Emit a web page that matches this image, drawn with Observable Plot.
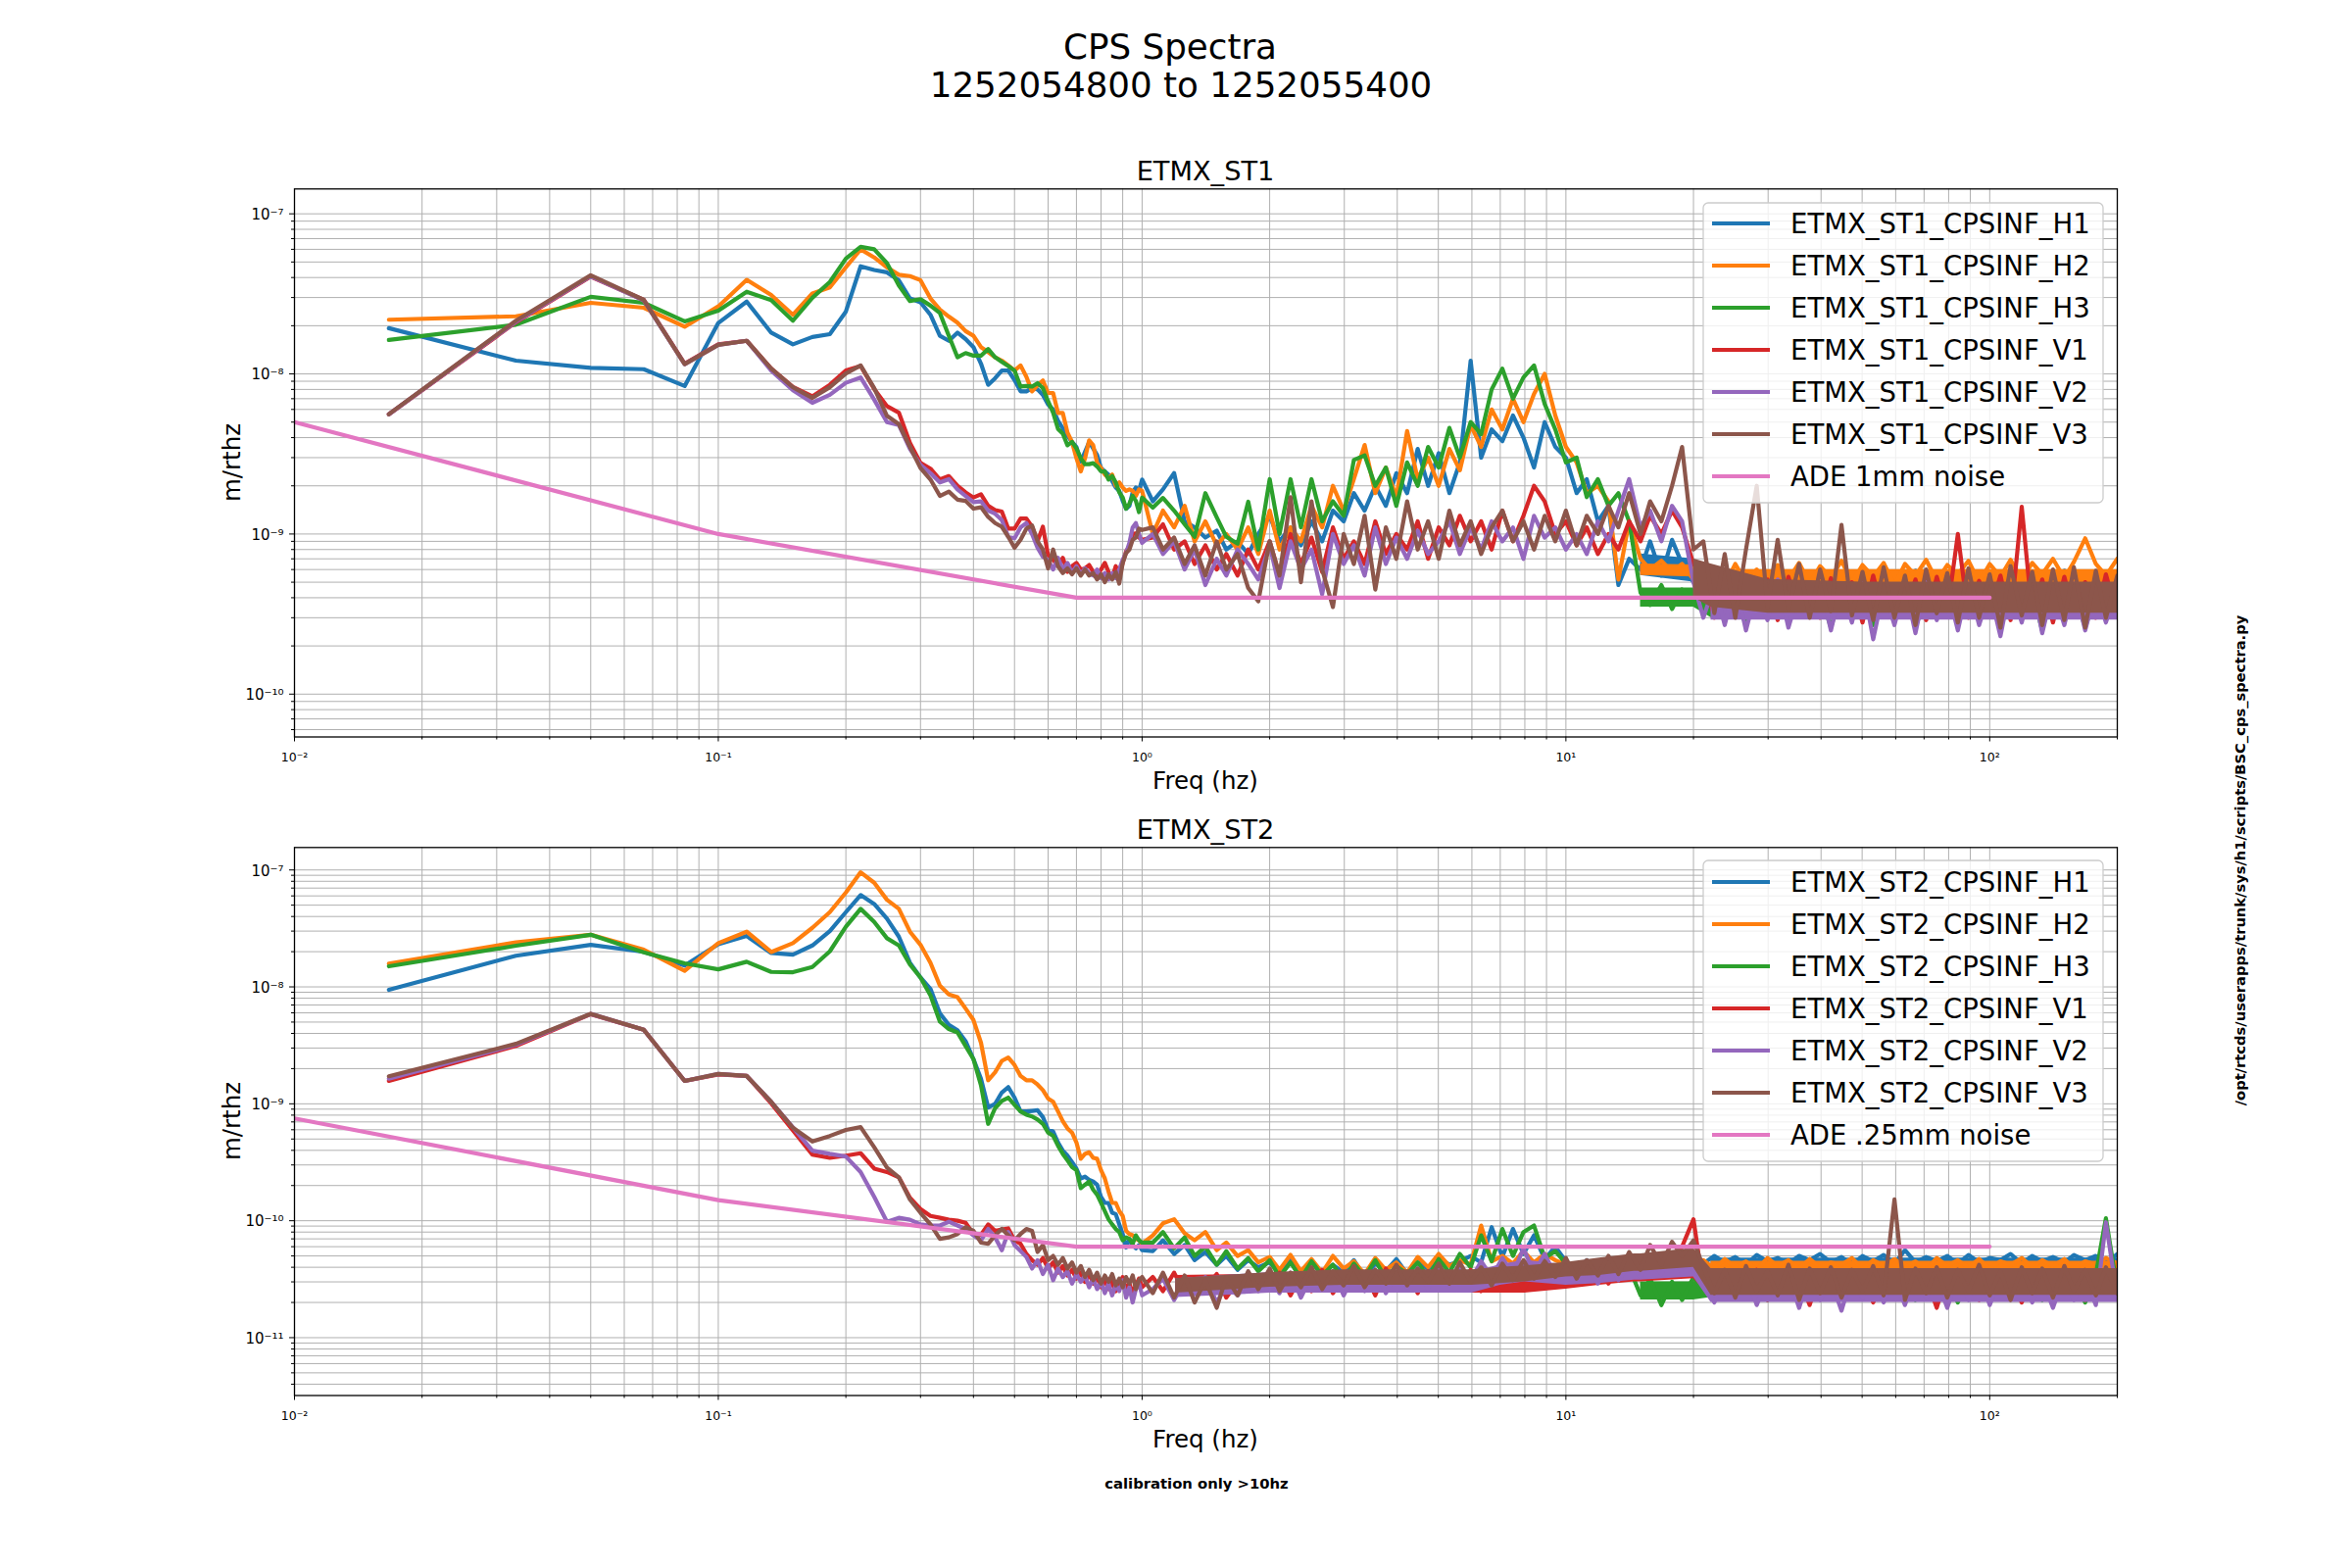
<!DOCTYPE html>
<html><head><meta charset="utf-8">
<script src="https://cdn.jsdelivr.net/npm/d3@7"></script>
<script src="https://cdn.jsdelivr.net/npm/@observablehq/plot@0.6"></script>
<style>
html,body{margin:0;padding:0;background:#fff;}
#wrap{position:relative;width:2400px;height:1600px;background:#fff;font-family:"DejaVu Sans";overflow:hidden;}
#wrap svg{position:absolute;left:0;}
</style></head><body><div id="wrap"></div>
<script>
// ---------- frequency grid (Hz) ----------
const freqLow = [0.0167,0.0333,0.05,0.0667,0.0833,0.1,0.1167,0.1333,0.15,0.1667,
0.1833,0.2,0.2167,0.2333,0.25,0.2667,0.2833,0.3,0.3167,0.3333,
0.35,0.3667,0.3833,0.4,0.4167,0.4333,0.45,0.4667,0.4833,0.5,
0.5167,0.5333,0.55,0.5667,0.5833,0.6,0.6167,0.6333,0.65,0.6667,
0.6833,0.7,0.7167,0.7333,0.75,0.7667,0.7833,0.8,0.8167,0.8333,
0.85,0.8667,0.8833,0.9,0.9167,0.9333,0.95,0.9667,0.9833,1.0];
const freqHigh = [1.06,1.12,1.19,1.26,1.33,1.41,1.5,1.58,1.68,1.78,1.88,2.0,
2.11,2.24,2.37,2.51,2.66,2.82,2.99,3.16,3.35,3.55,3.76,3.98,
4.22,4.47,4.73,5.01,5.31,5.62,5.96,6.31,6.68,7.08,7.5,7.94,
8.41,8.91,9.44,10,10.6,11.2,11.9,12.6,13.3,14.1,
15,15.8,16.8,17.8,18.8,20,
21.1,22.4,23.7,25.1,26.6,28.2,29.9,31.6,33.5,35.5,
37.6,39.8,42.2,44.7,47.3,50.1,53.1,56.2,59.6,63.1,
66.8,70.8,75,79.4,84.1,89.1,94.4,100,106,112,
119,126,133,141,150,158,168,178,188,200];
const freq = freqLow.concat(freqHigh);
// frequencies where a trace's dense noise floor is given as a lo/hi envelope (NaN = no envelope there)
const bandFreq = [1.2,2,3,4,5,6,7,8,10,12,14.5,15,20,22,30,50,100,200];

// ---------- ETMX_ST1 spectra, units of 1e-10 m/rthz ----------
const unitST1 = 1e-10;
const st1_H1 = [
193,121,109,107,84,208,283,181,153,170,
177,245,470,446,431,384,296,280,234,173,
161,181,165,147,116,85.5,94,105,105,91.6,
77.8,77.8,81.5,80,74,64.4,60,51,45.7,41.2,
37.6,35,28.3,32.6,37.6,34.2,31.1,25.8,24.6,23.5,
21.4,19.5,18.6,16.1,14.4,15,18.2,19.5,18.6,21.9,
16,19,24,12,11,9.5,10.5,8,9,7.5,10,13,
9,11,8.5,12,9,14,12,18,14,20,15,24,
18,34,20,32,18,28,121,30,45,38,55,40,
26,50,35,30,18,22,12,15,4.8,7,
6,9,5.5,9.2,6.5,5,
6.5,3.6,5.5,3.2,5.2,3.5,5.6,3.4,5.3,3.6,
5.7,3.3,5.4,3.7,5.8,3.4,5.5,3.2,5.6,3.5,
5.9,3.6,5.4,3.3,5.7,3.5,5.5,3.4,5.8,3.6,
5.3,3.2,5.6,3.5,5.9,3.4,5.5,3.6,5.7,3.3];
const st1_H2 = [
218,229,278,259,197,264,387,311,234,318,
347,463,600,534,463,416,408,385,296,252,
228,209,185,173,147,137,127,121,113,105,
113,96,77.7,85,91,76,76,57,57,43,
37.6,29.7,24.6,29.7,38.5,35.8,27.7,25.8,23.5,22.4,
23.5,20,21,19.5,18.6,19,18.6,17.3,19,18.6,
10,14,11,15,9,12,8.5,10,8,11,7.5,14,
8,11,9,15,11,20,14,22,36,18,26,17,
44,22,30,20,34,25,48,35,60,45,70,50,
75,100,55,35,28,18,20,16,5.2,12,
7,6,6.8,5.8,6.5,5.2,
4.5,6.2,4.8,6.5,5.0,6.0,4.6,6.4,5.2,6.6,
4.9,6.3,5.3,6.8,5.0,6.4,5.4,6.6,4.8,6.5,
5.5,6.9,5.1,6.4,5.6,6.8,5.0,6.5,5.4,6.9,
5.2,6.6,5.6,7.0,5.3,6.7,9.4,6.5,5.5,7.0];
const st1_H3 = [
163,203,303,278,213,248,326,289,215,299,
375,525,622,600,492,357,285,293,267,240,
173,127,135,130,130,143,127,119,112,105,
83.4,84,83.4,87.5,81.5,67.5,57.3,45.3,42.3,35.8,
37.6,34.2,29.7,27.3,27.3,27.7,26.4,24.6,24.6,21.9,
23,21,18.2,16.9,14.4,15.5,17.3,16.1,13.7,16.9,
14.6,16.8,14,11.5,9.6,18,12.7,9.6,8.7,15.9,8,22,
10,22,11,22,12,16,13,29,31,20,26,15,
28,20,35,26,46,30,50,42,80,108,70,95,
113,65,45,28,30,17,22,15,18,12,
4.3,3.6,4.8,3.4,4.5,3.8,
3.4,4.5,2.9,4.2,2.7,4.6,3.0,4.4,2.8,4.7,
3.1,4.3,2.6,4.5,3.0,4.8,2.7,4.4,2.9,4.6,
2.6,4.2,3.0,4.7,2.7,4.5,2.9,4.3,2.6,4.6,
3.1,4.4,2.5,4.7,2.8,4.5,2.6,4.3,2.9,4.6];
const st1_V1 = [
56,210,405,290,116,153,161,108,83,72.4,
85.5,105,112,80.5,62.9,57.3,37,27.8,25.6,21.9,
23,20,18.2,16.9,17.7,15,14.1,13.8,10.8,10.8,
12.5,12.5,11.1,9.0,11.1,7.4,6.9,6.3,7.1,5.8,
6.3,6.6,6.0,6.1,6.4,5.8,5.5,6.0,6.6,5.8,
5.3,6.3,5.5,6.6,7.8,8.4,10,10.1,9.5,9.2,
9.5,11.5,8,9,6.5,8.5,6,7.5,5.5,8,6,9,
5.5,10,6.5,9.5,5.8,11,7,9,6.5,12,7.5,10,
8,12,7,11,8.5,13,9,12,8,14,9,13,
20,16,10,12,8.5,11,7.5,10,8,12,
9,13,10,14,11,6.5,
5.5,3.0,5.0,3.3,4.8,3.1,5.2,2.9,5.4,3.2,
4.9,3.0,5.3,3.4,5.0,2.8,5.5,3.1,4.7,3.3,
5.2,2.9,5.4,3.2,10,3.0,5.1,3.3,5.5,2.9,
14.8,3.1,5.2,2.8,5.4,3.2,5.0,3.0,5.6,3.1];
const st1_V2 = [
56,212,408,288,115,152,161,105,79,66,
74,88,95,69,50,48,34,27,24,21,
22,19,17.3,15.8,16,14,13.4,12.2,9.6,9.4,
11,11.7,10,8.2,7.2,6.9,6.0,7.1,6.0,6.6,
5.7,6.3,5.6,6.1,5.7,5.5,6.0,5.3,5.7,5.2,
5.7,5.3,6.0,6.9,7.6,8.8,11,11.7,10,8.8,
10,7.5,9,6,8,4.8,7,5.5,8,6.5,5.2,8.5,
4.6,9,6,8,4.2,10,6.5,8.5,5.5,11,6.5,9.5,
7,10.5,7.5,9,12,7.5,11,8,12,9,11,7,
13,9.5,11,8,10,7.5,12,9,14,22,
11,14,9,15,12,5,
3.0,4.8,2.7,5.0,2.5,4.6,2.9,5.2,2.6,4.4,
3.1,4.9,2.5,4.7,2.8,5.1,2.2,4.5,2.7,4.8,
2.4,5.0,2.9,4.6,2.5,4.9,2.7,4.4,2.3,4.8,
2.8,5.0,2.4,4.6,2.7,4.9,2.5,4.5,2.8,4.7];
const st1_V3 = [
56,215,413,290,115,152,161,108,82.6,70.8,
82.6,100.6,113,81.5,54.7,48.6,35,25.8,21.9,17.3,
18.4,16.4,16.1,14.4,14.7,12.8,11.7,11.1,9.6,8.2,
9.2,10.8,11.3,9.0,8.0,6.1,8.0,6.3,5.7,6.1,
5.6,6.1,5.5,6.0,5.5,5.7,5.2,5.6,5.0,5.6,
5.2,5.8,4.9,6.6,7.6,8.0,9.2,9.5,10.8,10.6,
11,8,9.5,6.5,8.5,5.5,9,6,7.5,4.6,3.8,9,
5.5,17,5,16,6,3.5,10,6.5,13,4.5,11,7,
16,8,12,7,14,8.5,12,7.5,11,14,9,12,
8,13,9,14,8.5,13,10,15,11,18,
10,16,12,20,35,8,
9,3.2,7.5,3.0,8,20,3.5,9.2,3.4,6.5,
3.0,6,3.3,11.4,3.1,5.8,2.9,6.2,3.0,5.5,
2.7,6,3.2,5.7,2.8,6.1,3.0,5.6,2.6,6.3,
3.1,5.8,2.7,6.0,2.9,6.2,2.6,5.9,3.0,5.5];
// dense-noise envelopes on bandFreq (units 1e-10)
const st1_H1_lo = [NaN,NaN,NaN,NaN,NaN,NaN,NaN,NaN,NaN,NaN,NaN,5.5,5,3.6,3.6,3.6,3.6,3.6];
const st1_H1_hi = [NaN,NaN,NaN,NaN,NaN,NaN,NaN,NaN,NaN,NaN,NaN,7.5,7,5.2,5.2,5.2,5.2,5.2];
const st1_H2_lo = [NaN,NaN,NaN,NaN,NaN,NaN,NaN,NaN,NaN,NaN,NaN,5.5,5.4,4.5,4.5,4.5,4.5,4.5];
const st1_H2_hi = [NaN,NaN,NaN,NaN,NaN,NaN,NaN,NaN,NaN,NaN,NaN,6.5,6.4,6.0,6.0,6.0,6.0,6.0];
const st1_H3_lo = [NaN,NaN,NaN,NaN,NaN,NaN,NaN,NaN,NaN,NaN,NaN,3.5,3.5,3.0,3.0,3.0,3.0,3.0];
const st1_H3_hi = [NaN,NaN,NaN,NaN,NaN,NaN,NaN,NaN,NaN,NaN,NaN,4.6,4.6,4.3,4.3,4.3,4.3,4.3];
const st1_V1_lo = [NaN,NaN,NaN,NaN,NaN,NaN,NaN,NaN,NaN,NaN,NaN,NaN,NaN,3.3,3.3,3.3,3.3,3.3];
const st1_V1_hi = [NaN,NaN,NaN,NaN,NaN,NaN,NaN,NaN,NaN,NaN,NaN,NaN,NaN,4.8,4.8,4.8,4.8,4.8];
const st1_V2_lo = [NaN,NaN,NaN,NaN,NaN,NaN,NaN,NaN,NaN,NaN,NaN,NaN,NaN,2.9,2.9,2.9,2.9,2.9];
const st1_V2_hi = [NaN,NaN,NaN,NaN,NaN,NaN,NaN,NaN,NaN,NaN,NaN,NaN,NaN,4.4,4.4,4.4,4.4,4.4];
const st1_V3_lo = [NaN,NaN,NaN,NaN,NaN,NaN,NaN,NaN,NaN,NaN,NaN,NaN,4,3.5,3.2,3.2,3.2,3.2];
const st1_V3_hi = [NaN,NaN,NaN,NaN,NaN,NaN,NaN,NaN,NaN,NaN,NaN,NaN,7,6.5,5.2,5.0,5.0,5.0];
const ade1mmFreq = [0.01, 0.1, 0.7, 100];
const ade1mm = [5e-9, 1e-9, 4e-10, 4e-10];

// ---------- ETMX_ST2 spectra, units of 1e-11 m/rthz ----------
const unitST2 = 1e-11;
const st2_H1 = [
944,1847,2291,1996,1520,2317,2724,1950,1890,2260,
3000,4357,6100,5120,3830,2690,1607,1203,961,593,
473,425,343,241,164,93,100,125,139,113,
86,86,87,88,77,60,58,46.7,39.8,36,
31.8,27.9,23,23.8,22.4,21.6,20.3,16,14.2,14.2,
11.7,11.4,9.3,7.7,5.9,7.0,6.2,5.8,6.2,5.6,
5.5,6.8,5.2,6.2,4.6,5.4,4.2,5.0,3.8,4.6,4.0,4.4,
3.6,4.8,3.5,4.5,3.4,4.2,3.6,4.6,3.3,4.3,3.7,4.7,
3.5,4.4,3.9,4.8,4.2,4.5,5.0,4.4,8.8,4.9,8.5,5.2,
7.5,4.7,6.0,4.5,3.7,4.6,3.6,4.8,3.8,4.4,
3.9,4.6,3.7,4.5,3.8,4.2,
4.3,5.0,4.4,4.9,4.2,5.1,4.5,4.8,4.3,5.0,
4.6,5.2,4.4,4.9,4.2,5.0,4.5,5.1,4.3,5.6,
4.4,4.9,4.5,5.0,4.3,5.1,4.4,4.8,4.6,5.2,
4.3,5.0,4.5,4.9,4.4,5.1,4.6,5.0,4.3,5.2];
const st2_H2 = [
1578,2408,2793,2080,1374,2366,2965,1986,2366,3200,
4357,6410,9550,7780,5560,4650,2965,2291,1607,1025,
861,818,653,521,333,159,186,233,249,215,
173,159,159,146,131,111,104,86,71,61.6,
56.7,46.7,33.9,37.3,38.5,34.5,33.9,27,23,17.8,
14.2,14.2,12.1,11,8.2,7.7,7.5,7.0,6.8,6.35,
7.5,9.5,10.3,7.8,6.8,8.0,5.6,6.5,5.0,5.6,4.4,4.9,
3.8,5.1,3.7,4.7,3.6,5.0,3.9,4.5,3.5,4.8,3.8,4.4,
3.6,4.9,4.0,5.2,4.1,4.6,4.2,9.1,4.5,5.0,4.3,5.5,
4.4,5.2,4.6,4.2,3.6,4.5,3.5,4.7,3.7,4.3,
4.0,4.4,3.8,4.6,3.9,4.1,
4.6,3.9,4.7,4.0,4.5,3.8,4.8,4.1,4.6,3.9,
4.7,4.0,4.4,4.2,4.8,3.9,4.6,4.1,4.7,4.0,
4.5,3.8,4.8,4.1,4.6,4.0,4.7,3.9,4.5,4.2,
4.8,4.0,4.6,4.1,4.7,3.9,4.5,4.2,4.8,4.3];
const st2_H3 = [
1500,2249,2793,1977,1590,1413,1640,1343,1335,1479,
2013,3266,4650,3593,2607,2260,1556,1203,845,505,
436,408,312,241,144,67.4,91.8,106,113,98,
86,80.7,78,73.3,67.4,56.7,53.2,43.8,37.3,32.8,
28.8,27,19,20.3,21.6,18.4,16.7,14.2,12.1,10.3,
9.3,8.5,8.0,6.8,7.2,7.0,6.35,7.5,6.8,6.5,
6.5,8.0,5.8,7.2,5.0,6.0,4.2,5.5,3.9,4.8,3.7,4.6,
3.3,4.4,3.2,4.5,3.4,4.2,3.1,4.3,3.3,4.6,3.2,4.1,
3.5,4.4,3.3,4.7,3.6,5.2,4.0,7.5,4.5,8.5,5.0,8.0,
9.1,4.8,5.5,4.3,3.4,4.5,3.3,4.6,3.5,4.0,
2.3,3.2,1.9,3.0,2.1,3.3,
2.4,3.4,2.2,3.2,2.5,3.5,2.1,3.3,2.4,3.1,
2.0,3.4,2.3,3.2,2.5,3.3,2.2,3.5,2.4,3.1,
2.1,3.4,2.3,3.2,2.0,3.3,2.4,3.5,2.2,3.1,
2.5,3.4,2.1,3.2,2.3,3.3,2.0,3.5,10.5,2.6];
const st2_V1 = [
157,313,584,430,157,178,173,101,59.3,36.8,
34.5,36,37.8,27.9,26.1,23.5,15.7,12.6,11,10.6,
10.2,10,9.6,7.7,7.6,9.3,8.2,8.4,8.6,6.8,
6.35,5.2,4.6,4.2,4.8,3.9,4.4,3.6,4.1,3.4,
3.8,3.2,3.6,3.0,3.5,2.9,3.3,2.7,3.1,2.6,
3.0,2.5,2.8,3.3,2.6,2.9,2.4,2.8,3.2,2.7,
3.3,2.5,3.6,2.4,3.2,2.6,3.5,2.2,3.0,2.5,3.3,2.6,
3.6,2.3,3.4,2.5,3.8,2.4,3.3,2.7,3.6,2.3,3.9,2.6,
3.5,2.4,3.7,2.8,3.4,2.6,3.8,2.5,3.6,2.7,4.0,2.6,
3.7,2.9,4.1,2.8,3.9,3.0,4.2,2.9,4.4,3.2,
4.5,3.4,5.0,3.8,6.0,10.3,
2.7,3.6,2.2,3.4,2.5,3.8,2.1,3.5,2.4,3.3,
1.9,3.6,2.3,3.2,2.6,3.7,2.0,3.4,2.4,3.5,
2.2,3.3,1.8,3.6,2.5,3.4,2.1,3.7,2.3,3.2,
2.0,3.5,2.4,3.3,2.2,3.6,2.1,3.4,2.5,3.2];
const st2_V2 = [
164,320,587,430,157,180,173,104,63,39.8,
37.3,35.4,26.1,16,9.8,10.6,10.2,9.3,9.1,9.1,
9.8,9.1,8.5,7.5,6.8,8.5,7.2,5.6,8.0,6.2,
5.5,4.9,3.9,4.6,3.5,4.2,3.1,3.9,3.3,3.7,
2.9,3.5,3.0,3.4,2.7,3.2,2.6,3.0,2.4,2.9,
2.3,2.8,2.5,3.1,2.2,2.7,2.0,2.6,2.9,2.3,
2.6,3.2,2.1,3.0,2.4,3.3,2.0,2.8,2.3,3.1,2.5,3.3,
2.4,3.6,2.2,3.4,2.6,3.7,2.3,3.5,2.5,3.8,2.4,3.6,
2.7,3.9,2.6,4.2,2.9,4.0,3.1,4.5,3.3,4.8,3.5,5.8,
3.6,5.2,3.4,4.5,3.2,4.3,2.9,4.6,3.1,4.2,
3.3,4.8,3.5,5.2,3.6,4.0,
3.0,2.0,3.3,2.2,3.6,1.9,3.2,2.3,3.4,1.8,
3.5,2.1,3.1,1.7,3.4,2.2,3.6,2.0,3.3,1.9,
3.5,2.2,3.2,1.8,3.4,2.1,3.6,1.9,3.3,2.2,
3.5,2.0,3.2,1.8,3.4,2.1,3.3,1.9,9.7,2.2];
const st2_V3 = [
172,326,589,430,157,180,173,104,62.4,47.6,
53.1,59.7,63.2,42.5,28.5,23.5,15.2,11.7,9.3,7.0,
7.2,7.7,8.8,8.2,6.5,6.35,7.5,8.5,7.5,6.8,
7.7,8.5,8.2,5.4,6.2,4.6,5.0,4.2,4.8,3.9,
4.4,3.6,4.1,3.3,3.8,3.1,3.6,2.9,3.4,3.0,
3.5,2.8,3.2,2.7,3.3,2.9,3.4,2.6,3.1,3.3,
2.4,3.6,2.2,3.4,2.0,3.1,1.8,3.3,2.3,3.7,2.6,3.9,
2.5,3.6,2.7,4.0,2.6,3.7,2.8,4.1,2.7,3.8,2.9,4.2,
2.8,3.9,3.0,4.3,2.9,4.4,3.0,4.0,2.8,4.3,3.1,4.6,
3.2,4.5,3.3,4.8,3.2,4.6,3.4,5.0,3.5,5.4,
3.8,6.2,4.2,6.6,5.0,6.8,
4.0,2.4,3.8,2.2,4.1,2.5,3.7,2.3,4.2,2.1,
3.9,2.4,4.0,2.2,3.8,2.5,4.1,2.3,15.2,2.1,
3.9,2.4,4.0,2.2,3.8,2.5,4.2,2.3,3.7,2.1,
4.0,2.4,3.9,2.2,4.1,2.5,3.8,2.3,4.0,2.4];
// dense-noise envelopes on bandFreq (units 1e-11)
const st2_H1_lo = [NaN,NaN,NaN,NaN,NaN,NaN,NaN,NaN,NaN,NaN,NaN,NaN,NaN,3.8,3.8,3.8,3.8,3.8];
const st2_H1_hi = [NaN,NaN,NaN,NaN,NaN,NaN,NaN,NaN,NaN,NaN,NaN,NaN,NaN,4.8,4.8,4.8,4.8,4.8];
const st2_H2_lo = [NaN,NaN,NaN,NaN,NaN,NaN,NaN,NaN,NaN,NaN,NaN,NaN,NaN,3.6,3.6,3.6,3.6,3.6];
const st2_H2_hi = [NaN,NaN,NaN,NaN,NaN,NaN,NaN,NaN,NaN,NaN,NaN,NaN,NaN,4.5,4.5,4.5,4.5,4.5];
const st2_H3_lo = [NaN,NaN,NaN,NaN,NaN,NaN,NaN,NaN,NaN,NaN,NaN,2.1,2.1,2.2,2.2,2.2,2.2,2.2];
const st2_H3_hi = [NaN,NaN,NaN,NaN,NaN,NaN,NaN,NaN,NaN,NaN,NaN,3.0,3.0,3.2,3.2,3.2,3.2,3.2];
const st2_V1_lo = [2.4,2.4,2.4,2.4,2.4,2.4,2.4,2.4,2.6,2.8,3.0,3.0,3.2,2.2,2.2,2.2,2.2,2.2];
const st2_V1_hi = [3.4,3.5,3.5,3.5,3.5,3.5,3.5,3.5,3.8,4.0,4.2,4.2,4.5,3.4,3.4,3.4,3.4,3.4];
const st2_V2_lo = [2.2,2.4,2.4,2.4,2.4,2.4,2.8,3.0,2.8,2.9,3.1,3.1,3.3,2.0,2.0,2.0,2.0,2.0];
const st2_V2_hi = [3.2,3.6,3.6,3.6,3.6,3.6,4.2,4.6,4.2,4.3,4.6,4.6,4.6,3.3,3.3,3.3,3.3,3.3];
const st2_V3_lo = [2.4,2.7,2.8,2.8,2.8,2.8,2.9,3.0,3.3,3.4,3.7,3.7,4.0,2.3,2.3,2.3,2.3,2.3];
const st2_V3_hi = [3.2,3.6,3.8,3.8,3.8,3.8,4.0,4.1,4.4,4.8,5.2,5.2,5.8,3.9,3.9,3.9,3.9,3.9];
const ade025Freq = [0.01, 0.1, 0.7, 100];
const ade025 = [7.5e-10, 1.5e-10, 6e-11, 6e-11];

// ---------- names, ticks ----------
const st1Names = ["ETMX_ST1_CPSINF_H1","ETMX_ST1_CPSINF_H2","ETMX_ST1_CPSINF_H3","ETMX_ST1_CPSINF_V1","ETMX_ST1_CPSINF_V2","ETMX_ST1_CPSINF_V3","ADE 1mm noise"];
const st2Names = ["ETMX_ST2_CPSINF_H1","ETMX_ST2_CPSINF_H2","ETMX_ST2_CPSINF_H3","ETMX_ST2_CPSINF_V1","ETMX_ST2_CPSINF_V2","ETMX_ST2_CPSINF_V3","ADE .25mm noise"];
const colors = ["#1f77b4","#ff7f0e","#2ca02c","#d62728","#9467bd","#8c564b","#e377c2"];
const xTicks = [0.01, 0.1, 1, 10, 100];
const xTickLabels = ["10\u207B\u00B2","10\u207B\u00B9","10\u2070","10\u00B9","10\u00B2"];
const yTicksST1 = [1e-10, 1e-9, 1e-8, 1e-7];
const yTickLabelsST1 = ["10\u207B\u00B9\u2070","10\u207B\u2079","10\u207B\u2078","10\u207B\u2077"];
const yTicksST2 = [1e-11, 1e-10, 1e-9, 1e-8, 1e-7];
const yTickLabelsST2 = ["10\u207B\u00B9\u00B9","10\u207B\u00B9\u2070","10\u207B\u2079","10\u207B\u2078","10\u207B\u2077"];

function build(values, unit, name) {
  if (values.length !== freq.length) throw new Error(name + " has " + values.length + " values, expected " + freq.length);
  return freq.map((f, i) => ({f, v: values[i] * unit}));
}
function buildBand(lo, hi, unit, name) {
  if (lo.length !== bandFreq.length || hi.length !== bandFreq.length) throw new Error(name + " band length mismatch");
  return bandFreq.map((f, i) => ({f, lo: lo[i] * unit, hi: hi[i] * unit}));
}
function minorTicks(lo, hi) {
  const out = [];
  for (let e = Math.floor(Math.log10(lo)) - 1; e <= Math.ceil(Math.log10(hi)); e++)
    for (let m = 2; m <= 9; m++) { const v = m * Math.pow(10, e); if (v >= lo * 0.9999 && v <= hi * 1.0001) out.push(v); }
  return out;
}

function panel(cfg) {
  const xDomain = [0.01, 200];
  const xMinor = minorTicks(xDomain[0], xDomain[1]);
  const yMinor = minorTicks(cfg.yDomain[0], cfg.yDomain[1]);
  const xLab = new Map(xTicks.map((d, i) => [d, xTickLabels[i]]));
  const yLab = new Map(cfg.yTicks.map((d, i) => [d, cfg.yLabels[i]]));
  const traces = [];
  cfg.series.forEach((s, i) => {
    traces.push(Plot.areaY(buildBand(cfg.bands[i][0], cfg.bands[i][1], cfg.unit, cfg.names[i]),
      {x: "f", y1: "lo", y2: "hi", fill: colors[i], fillOpacity: 1, clip: true}));
    traces.push(Plot.line(build(s, cfg.unit, cfg.names[i]),
      {x: "f", y: "v", stroke: colors[i], strokeWidth: 4.2, clip: true}));
  });
  traces.push(Plot.line(cfg.adeF.map((f, i) => ({f, v: cfg.adeV[i]})), {x: "f", y: "v", stroke: colors[6], strokeWidth: 4.2, clip: true}));
  const grid = {stroke: "#b0b0b0", strokeOpacity: 1, strokeWidth: 1};
  const svg = Plot.plot({
    width: 2400, height: 800,
    marginLeft: 300, marginRight: 240, marginTop: cfg.mt, marginBottom: cfg.mb,
    x: {type: "log", domain: xDomain, axis: null},
    y: {type: "log", domain: cfg.yDomain, axis: null},
    style: {fontFamily: "DejaVu Sans", background: "transparent", color: "black"},
    marks: [
      Plot.gridX(xMinor.concat(xTicks), grid),
      Plot.gridY(yMinor.concat(cfg.yTicks), grid),
      ...traces,
      Plot.frame({stroke: "black", strokeWidth: 1.3}),
      Plot.axisX(xTicks, {anchor: "bottom", tickSize: 5, tickFormat: () => "", label: null}),
      Plot.axisX(xMinor, {anchor: "bottom", tickSize: 3, tickFormat: () => "", label: null}),
      Plot.axisY(cfg.yTicks, {anchor: "left", tickSize: 5, tickFormat: () => "", label: null}),
      Plot.axisY(yMinor, {anchor: "left", tickSize: 3, tickFormat: () => "", label: null}),
      Plot.text(xTicks, {x: d => d, frameAnchor: "bottom", lineAnchor: "top", dy: 16, fontSize: 12.5, fill: "black", text: d => xLab.get(d)}),
      Plot.text(cfg.yTicks, {y: d => d, frameAnchor: "left", textAnchor: "end", dx: -11, dy: 1, fontSize: 15, fill: "black", text: d => yLab.get(d)})
    ]
  });
  svg.style.top = cfg.top + "px";
  return svg;
}

const wrap = document.getElementById("wrap");
wrap.appendChild(panel({
  series: [st1_H1, st1_H2, st1_H3, st1_V1, st1_V2, st1_V3], names: st1Names, unit: unitST1,
  bands: [[st1_H1_lo, st1_H1_hi], [st1_H2_lo, st1_H2_hi], [st1_H3_lo, st1_H3_hi], [st1_V1_lo, st1_V1_hi], [st1_V2_lo, st1_V2_hi], [st1_V3_lo, st1_V3_hi]],
  adeF: ade1mmFreq, adeV: ade1mm, yDomain: [5.4e-11, 1.43e-7], yTicks: yTicksST1, yLabels: yTickLabelsST1,
  mt: 192.3, mb: 48.5, top: 0
}));
wrap.appendChild(panel({
  series: [st2_H1, st2_H2, st2_H3, st2_V1, st2_V2, st2_V3], names: st2Names, unit: unitST2,
  bands: [[st2_H1_lo, st2_H1_hi], [st2_H2_lo, st2_H2_hi], [st2_H3_lo, st2_H3_hi], [st2_V1_lo, st2_V1_hi], [st2_V2_lo, st2_V2_hi], [st2_V3_lo, st2_V3_hi]],
  adeF: ade025Freq, adeV: ade025, yDomain: [3.2e-12, 1.556e-7], yTicks: yTicksST2, yLabels: yTickLabelsST2,
  mt: 64.3, mb: 176.5, top: 800
}));

// ---------- text & legends overlay ----------
const ov = d3.select("#wrap").append("svg").attr("width", 2400).attr("height", 1600)
  .style("top", "0px").attr("font-family", "DejaVu Sans").attr("fill", "black");
function txt(x, y, s, size, opts = {}) {
  const t = ov.append("text").attr("x", x).attr("y", y).attr("font-size", size)
    .attr("text-anchor", opts.anchor || "middle").text(s);
  if (opts.bold) t.attr("font-weight", "bold");
  if (opts.rotate) t.attr("x", 0).attr("y", 0).attr("transform", `translate(${x},${y}) rotate(-90)`);
  return t;
}
txt(1194, 60, "CPS Spectra", 35.7);
txt(1205, 99, "1252054800 to 1252055400", 35.7);
txt(1230, 184, "ETMX_ST1", 27.2);
txt(1230, 856, "ETMX_ST2", 27.2);
txt(1230, 805, "Freq (hz)", 24.5);
txt(1230, 1477, "Freq (hz)", 24.5);
txt(245, 472, "m/rthz", 24.5, {rotate: true});
txt(245, 1144, "m/rthz", 24.5, {rotate: true});
txt(1221, 1519, "calibration only >10hz", 14.8, {bold: true});
txt(2291, 878, "/opt/rtcds/userapps/trunk/sys/h1/scripts/BSC_cps_spectra.py", 14.7, {bold: true, rotate: true});

function legend(y0, h, row0, names) {
  ov.append("rect").attr("x", 1738).attr("y", y0).attr("width", 408).attr("height", h).attr("rx", 5)
    .attr("fill", "white").attr("fill-opacity", 0.8).attr("stroke", "#cccccc").attr("stroke-width", 1.3);
  names.forEach((n, i) => {
    const cy = row0 + i * 43;
    ov.append("line").attr("x1", 1747).attr("x2", 1806).attr("y1", cy).attr("y2", cy)
      .attr("stroke", colors[i]).attr("stroke-width", 4.2);
    ov.append("text").attr("x", 1827).attr("y", cy).attr("dy", "0.36em").attr("font-size", 27.5).text(n);
  });
}
legend(207, 306, 228, st1Names);
legend(878, 307, 900, st2Names);
</script></body></html>
